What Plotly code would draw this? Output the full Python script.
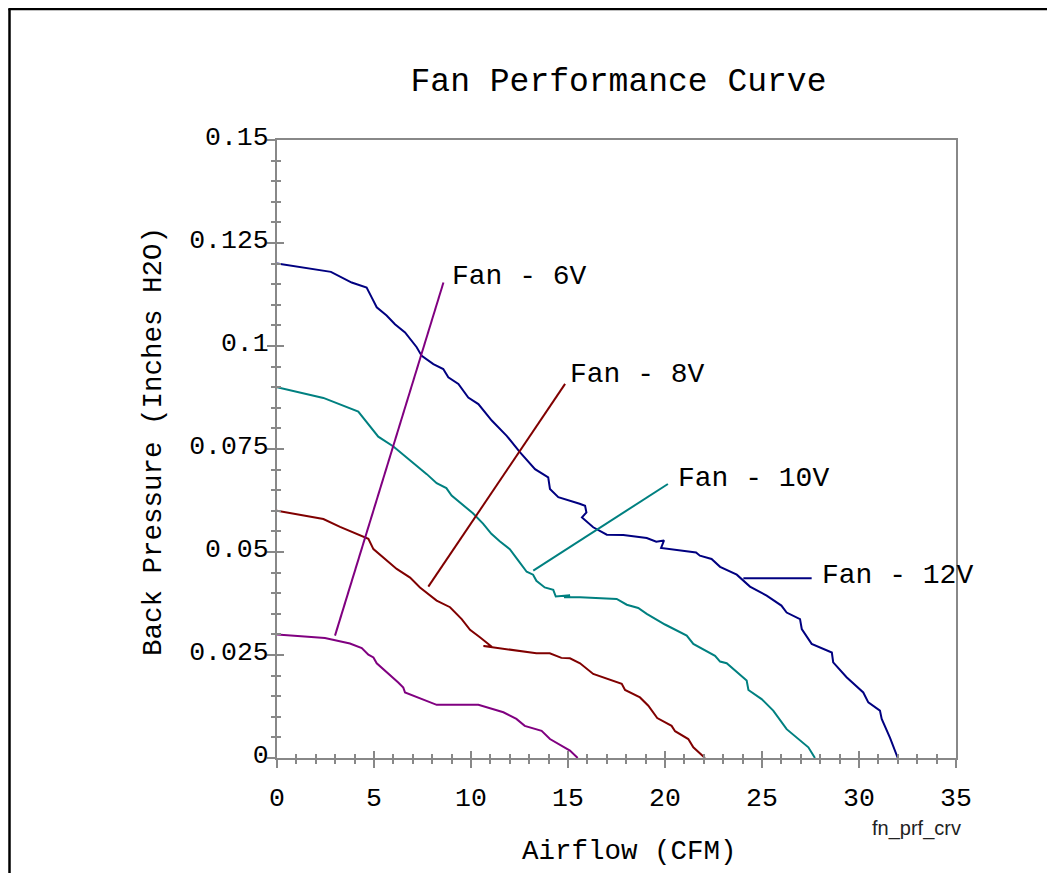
import plotly.graph_objects as go

# ---- data ----
fan12_x = [0, 2.78, 3.85, 4.62, 4.88, 5.14, 5.65, 6.08, 6.6, 7.2, 7.46, 8.06, 8.57, 8.83, 9.35, 9.86,
           10.38, 11.07, 11.84, 12.53, 13.3, 13.98, 14.07, 14.5, 15.6, 15.88, 15.95, 15.72, 16.3, 17.0,
           17.85, 19.06, 19.55, 19.95, 19.8, 21.6, 21.8, 22.4, 22.84, 23.7, 24.38, 25.24, 26.0, 26.27,
           26.96, 27.05, 27.56, 28.6, 28.67, 29.36, 30.22, 30.48, 31.08, 31.17, 31.6, 32.0]
fan12_y = [0.120, 0.118, 0.1154, 0.1142, 0.1118, 0.1094, 0.1074, 0.1053, 0.1033, 0.0997, 0.0976,
           0.0956, 0.0944, 0.0924, 0.0908, 0.0875, 0.0859, 0.0819, 0.0782, 0.0742, 0.0701, 0.0681,
           0.0653, 0.0633, 0.0617, 0.0612, 0.0596, 0.0584, 0.056, 0.0542, 0.0541, 0.0534, 0.0525,
           0.0528, 0.0510, 0.0499, 0.0491, 0.0483, 0.0464, 0.0445, 0.0416, 0.0394, 0.0370, 0.0353,
           0.0337, 0.0313, 0.0277, 0.0256, 0.0232, 0.0196, 0.0159, 0.0135, 0.0115, 0.0095, 0.0049, 0.0]

fan10_x = [0, 2.39, 4.19, 4.79, 5.22, 6.0, 6.69, 7.2, 7.72, 8.23, 8.73, 9.0, 9.5, 10.1, 10.62, 11.05,
           11.48, 12.0, 12.44, 12.87, 13.2, 13.37, 13.8, 14.24, 14.37, 15.1, 14.8, 15.62, 17.51, 18.03,
           18.62, 19.06, 20.0, 21.12, 21.46, 22.58, 22.84, 23.18, 24.21, 24.3, 24.98, 25.58, 26.27,
           27.39, 27.73]
fan10_y = [0.090, 0.0874, 0.0841, 0.0807, 0.078, 0.0756, 0.073, 0.071, 0.0689, 0.0667, 0.0655, 0.0637,
           0.0618, 0.0594, 0.0569, 0.0544, 0.0526, 0.0507, 0.0479, 0.0452, 0.0445, 0.043, 0.0414,
           0.0408, 0.0392, 0.0395, 0.0390, 0.0390, 0.0386, 0.0372, 0.0364, 0.035, 0.0324, 0.0297,
           0.0277, 0.0248, 0.0234, 0.023, 0.0188, 0.0165, 0.0143, 0.0115, 0.007, 0.0026, 0.0]

fan8_x = [0, 2.39, 3.25, 4.71, 4.97, 5.57, 6.17, 6.86, 7.37, 8.23, 8.92, 9.52, 9.95, 10.46, 11.07,
          10.64, 13.37, 14.06, 14.66, 15.1, 15.62, 16.3, 17.77, 17.94, 18.71, 19.14, 19.6, 20.34,
          20.52, 21.2, 21.46, 22.06]
fan8_y = [0.060, 0.058, 0.0561, 0.0532, 0.0507, 0.0484, 0.0459, 0.0438, 0.0414, 0.0382, 0.0366,
          0.0337, 0.0311, 0.0293, 0.027, 0.0272, 0.0254, 0.0254, 0.0243, 0.0242, 0.023, 0.0204,
          0.018, 0.0165, 0.0147, 0.0127, 0.0097, 0.0078, 0.0065, 0.0046, 0.0026, 0.0]

fan6_x = [0, 2.47, 3.76, 4.37, 4.71, 4.97, 5.14, 5.48, 5.82, 6.25, 6.51, 6.6, 8.23, 10.38, 11.67,
          12.34, 12.77, 13.64, 14.07, 15.1, 15.5]
fan6_y = [0.030, 0.0291, 0.0278, 0.0267, 0.0251, 0.0244, 0.023, 0.0216, 0.02, 0.0183, 0.0171, 0.0159,
          0.0129, 0.0129, 0.0111, 0.0095, 0.0078, 0.0066, 0.0046, 0.0018, 0.0]

# leader lines: start point (on curve) and end point (at label)
labels = ["Fan - 6V", "Fan - 8V", "Fan - 10V", "Fan - 12V"]
leader_x0 = [2.99, 7.8, 13.21, 24.04]
leader_y0 = [0.0297, 0.0416, 0.0455, 0.0436]
leader_x1 = [8.58, 14.85, 20.15, 27.56]
leader_y1 = [0.1154, 0.0908, 0.0665, 0.0436]

x_ticks = [0, 5, 10, 15, 20, 25, 30, 35]
y_ticks = [0, 0.025, 0.05, 0.075, 0.1, 0.125, 0.15]
y_ticktext = ["0", "0.025", "0.05", "0.075", "0.1", "0.125", "0.15"]

colors = ["#800080", "#800000", "#008080", "#000080"]
curves = [(fan6_x, fan6_y), (fan8_x, fan8_y), (fan10_x, fan10_y), (fan12_x, fan12_y)]

MONO = "Courier New, Liberation Mono, monospace"
AXC = "#888888"

fig = go.Figure()
for (cx, cy), c in zip(curves, colors):
    fig.add_trace(go.Scatter(x=cx, y=cy, mode="lines", line=dict(color=c, width=2),
                             showlegend=False, hoverinfo="skip"))
for i, c in enumerate(colors):
    fig.add_trace(go.Scatter(x=[leader_x0[i], leader_x1[i]], y=[leader_y0[i], leader_y1[i]],
                             mode="lines", line=dict(color=c, width=2), showlegend=False,
                             hoverinfo="skip", xaxis="x2", yaxis="y2"))

shifts = [(8, 6), (4, 9), (9, 6), (9, 3)]
for i, lab in enumerate(labels):
    fig.add_annotation(x=leader_x1[i], y=leader_y1[i], text=lab, showarrow=False,
                       xanchor="left", yanchor="middle", xshift=shifts[i][0], yshift=shifts[i][1],
                       font=dict(family=MONO, size=28, color="black"), borderpad=0)

OFF = 8  # page body margin
W, H = 1055 - 2 * OFF, 881 - 2 * OFF
L, R, T, B = 269, 91, 132, 115
pw, ph = W - L - R, H - T - B

def px(xp):
    return (xp - OFF - L) / pw

def py(yp):
    return (H - B - (yp - OFF)) / ph

# axis titles and footer
fig.add_annotation(x=px(629), y=py(851), xref="paper", yref="paper", text="Airflow (CFM)",
                   showarrow=False, xanchor="center", yanchor="middle",
                   font=dict(family=MONO, size=27.5, color="black"))
fig.add_annotation(x=px(153), y=py(442), xref="paper", yref="paper",
                   text="Back Pressure (Inches H2O)", textangle=-90,
                   showarrow=False, xanchor="center", yanchor="middle",
                   font=dict(family=MONO, size=27.5, color="black"))
fig.add_annotation(x=px(916), y=py(828), xref="paper", yref="paper", text="fn_prf_crv",
                   showarrow=False, xanchor="center", yanchor="middle",
                   font=dict(family="Arial, Liberation Sans, sans-serif", size=20, color="#222222"))

# outer frame (left and top edges)
fig.add_shape(type="line", xref="paper", yref="paper", x0=px(9.5), x1=px(9.5), y0=py(9), y1=py(900),
              line=dict(color="black", width=2.5))
fig.add_shape(type="line", xref="paper", yref="paper", x0=px(8.3), x1=px(1100), y0=py(9), y1=py(9),
              line=dict(color="black", width=2.5))

fig.update_layout(
    width=W, height=H,
    margin=dict(l=L, r=R, t=T, b=B),
    paper_bgcolor="white", plot_bgcolor="white",
    title=dict(text="Fan Performance Curve", x=px(618.5), xref="paper", xanchor="center",
               y=1 - (79 - OFF) / H, yref="container", yanchor="middle",
               font=dict(family=MONO, size=33, color="black")),
    xaxis=dict(range=[0, 35], tickvals=x_ticks, ticks="outside", ticklen=8, tickwidth=2,
               tickcolor=AXC, showline=True, linecolor=AXC, linewidth=2, mirror=True,
               showgrid=False, zeroline=False, ticklabelstandoff=6,
               minor=dict(dtick=1, ticks="outside", ticklen=4, tickwidth=1.5, tickcolor=AXC),
               tickfont=dict(family=MONO, size=26.5, color="black")),
    yaxis=dict(range=[0, 0.15], tickvals=y_ticks, ticktext=y_ticktext, ticks="outside", ticklen=8,
               tickwidth=2, tickcolor=AXC, showline=True, linecolor=AXC, linewidth=2, mirror=True,
               showgrid=False, zeroline=False, ticklabelshift=-4, ticklabelstandoff=-7,
               minor=dict(dtick=0.005, ticks="outside", ticklen=4, tickwidth=1.5, tickcolor=AXC),
               tickfont=dict(family=MONO, size=26.5, color="black")),
    xaxis2=dict(range=[0, 35], overlaying="x", anchor="y2", side="bottom", tickvals=x_ticks,
                ticks="inside", ticklen=7, tickwidth=2, tickcolor=AXC, showticklabels=False,
                showline=False, showgrid=False, zeroline=False,
                minor=dict(dtick=1, ticks="inside", ticklen=4, tickwidth=1.5, tickcolor=AXC)),
    yaxis2=dict(range=[0, 0.15], overlaying="y", anchor="x2", side="left", tickvals=y_ticks,
                ticks="inside", ticklen=7, tickwidth=2, tickcolor=AXC, showticklabels=False,
                showline=False, showgrid=False, zeroline=False,
                minor=dict(dtick=0.005, ticks="inside", ticklen=4, tickwidth=1.5, tickcolor=AXC)),
)

fig.write_html("out.html")
